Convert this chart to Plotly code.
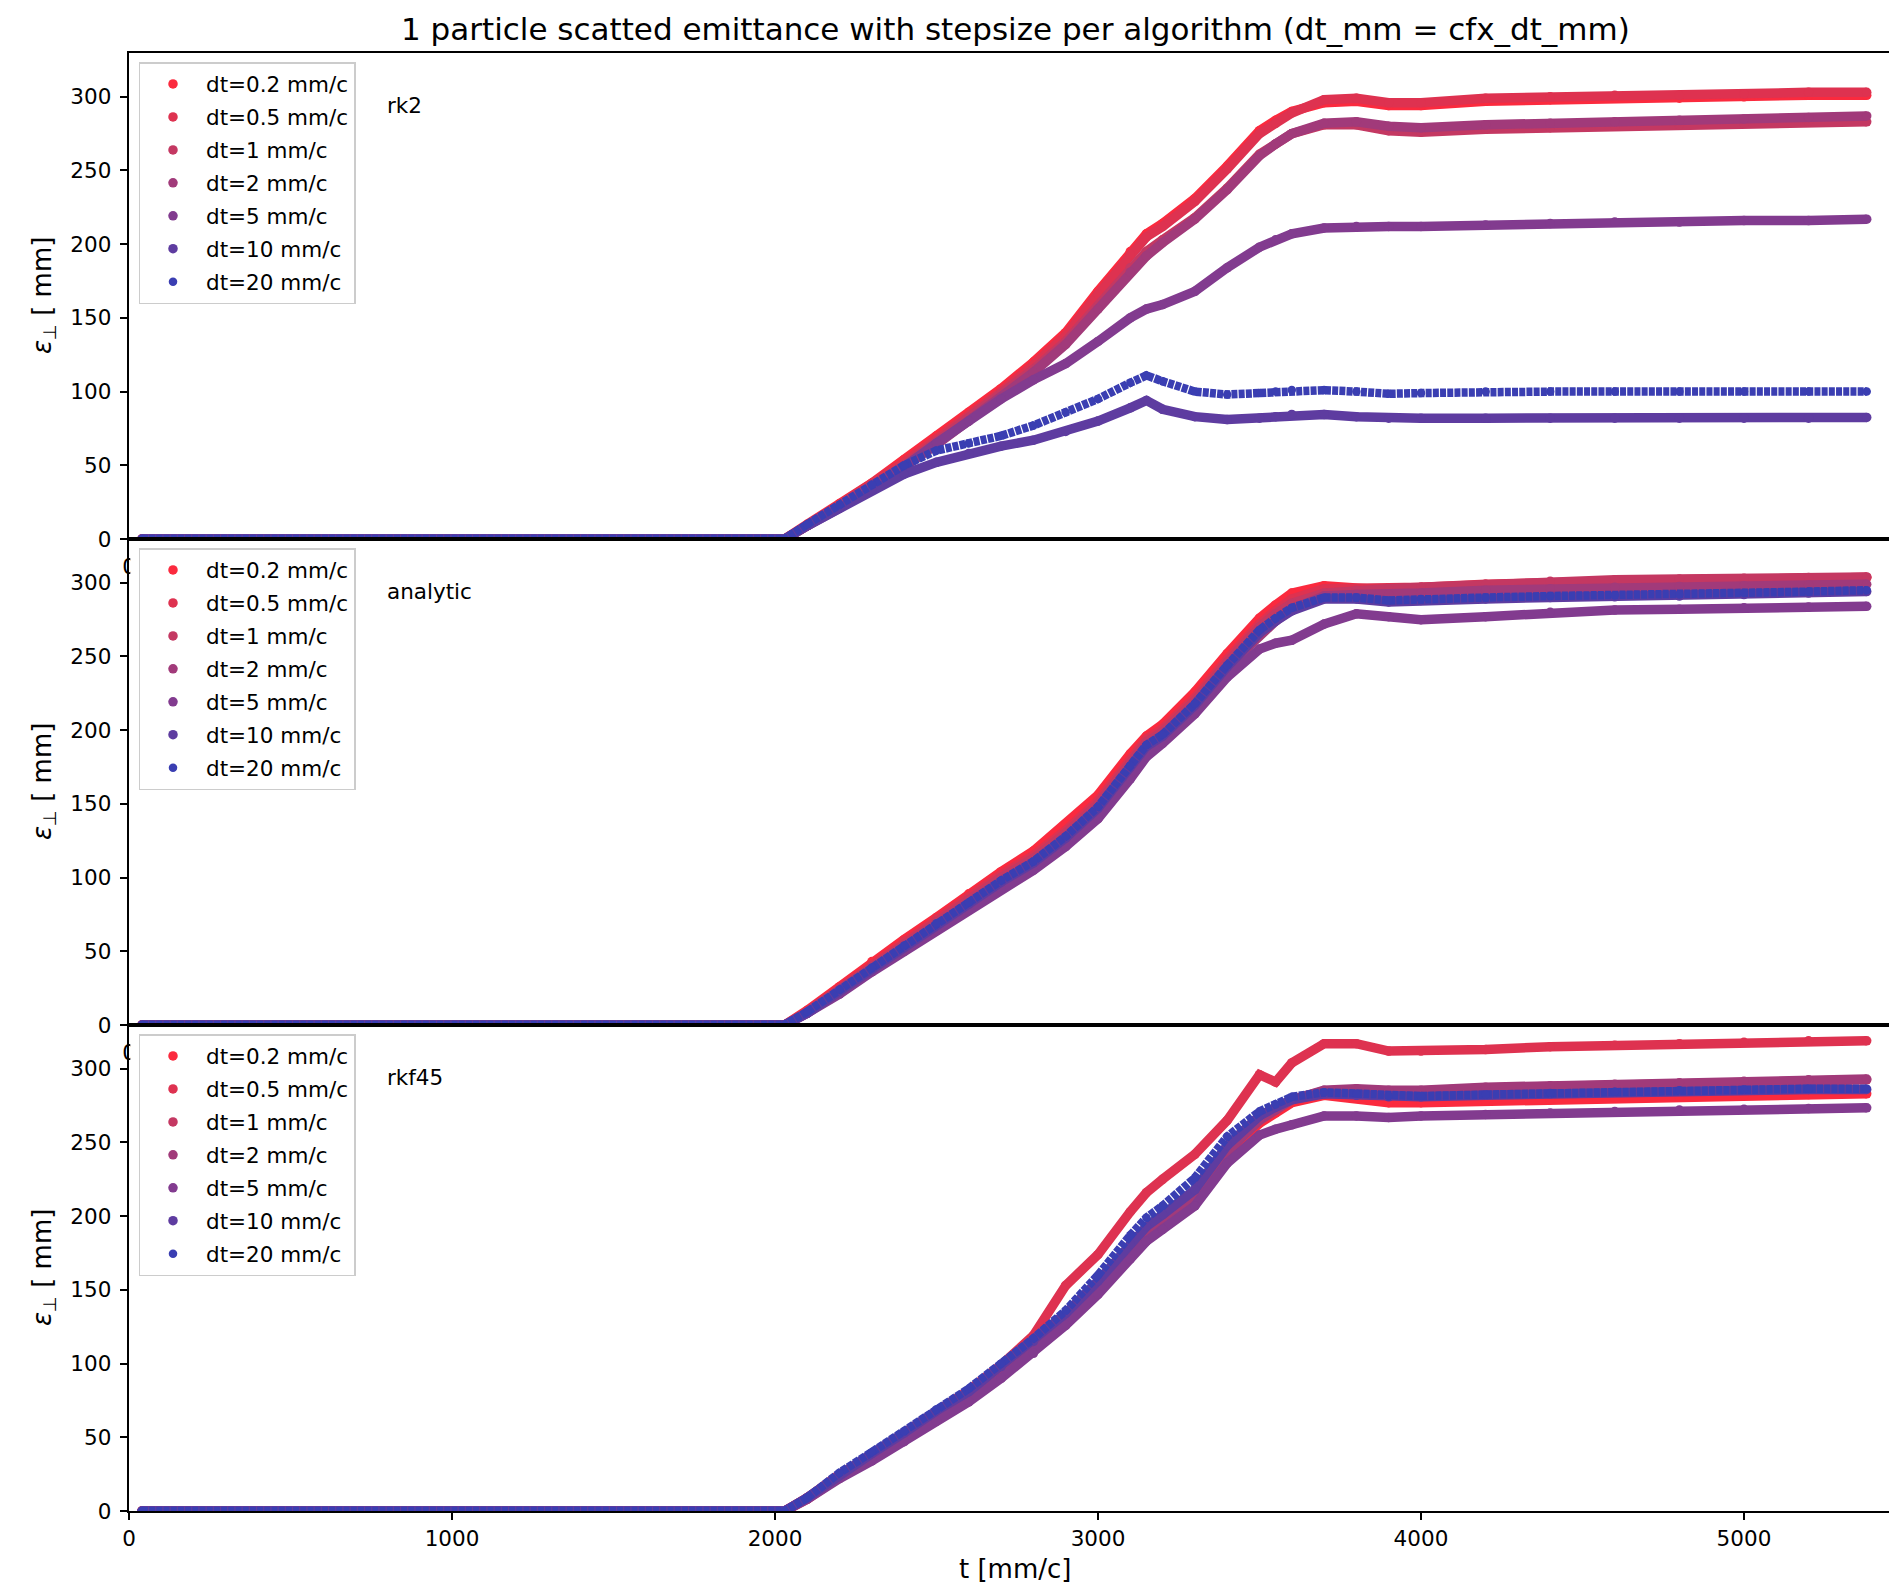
import plotly.graph_objects as go

# ---------------------------------------------------------------------------
# Data: transverse emittance eps_perp [mm] sampled along t [mm/c]
# ---------------------------------------------------------------------------
T = [40, 2030, 2100, 2200, 2300, 2400, 2500, 2600, 2700, 2800, 2900, 3000,
     3100, 3150, 3200, 3300, 3400, 3500, 3550, 3600, 3700, 3800, 3900, 4000,
     4200, 4400, 4600, 4800, 5000, 5200, 5380]

DT_LABELS = ["dt=0.2 mm/c", "dt=0.5 mm/c", "dt=1 mm/c", "dt=2 mm/c",
             "dt=5 mm/c", "dt=10 mm/c", "dt=20 mm/c"]
COLORS = ["#fb2a3e", "#de3250", "#c43862", "#a13a7a",
          "#823b8f", "#5e3ca0", "#3a3eb2"]
ALGORITHMS = ["rk2", "analytic", "rkf45"]
X_TICKS = [0, 1000, 2000, 3000, 4000, 5000]
Y_TICKS = [0, 50, 100, 150, 200, 250, 300]

# rk2
RK2_DT02 = [0, 0, 10, 24, 38, 54, 70, 86, 102, 120, 140, 168, 195, 207, 214, 231,
            253, 277, 284, 290, 296, 297, 294, 294, 297, 298, 299, 299, 300, 301, 301]
RK2_DT05 = [0, 0, 9, 23, 37, 52, 68, 84, 100, 118, 138, 166, 193, 205, 212, 229,
            251, 275, 282, 289, 298, 299, 296, 296, 299, 300, 301, 301, 302, 303, 303]
RK2_DT1 = [0, 0, 9, 22, 36, 50, 66, 82, 98, 115, 134, 158, 184, 195, 203, 218,
           238, 261, 268, 275, 281, 281, 277, 276, 278, 279, 280, 281, 282, 283, 283]
RK2_DT2 = [0, 0, 9, 22, 35, 49, 64, 80, 96, 113, 132, 156, 181, 192, 201, 217,
           237, 260, 268, 275, 282, 283, 280, 279, 281, 282, 283, 284, 285, 286, 287]
RK2_DT5 = [0, 0, 9, 21, 35, 49, 65, 80, 95, 108, 119, 134, 150, 156, 159, 168,
           184, 198, 203, 207, 211, 212, 212, 212, 213, 214, 215, 215, 216, 216, 217]
RK2_DT10 = [0, 0, 9, 21, 33, 44, 52, 58, 63, 67, 73, 80, 89, 94, 88, 83,
            81, 82, 83, 84.5, 84.5, 83, 82, 82, 82, 82, 82, 82, 82, 82, 82.5]
RK2_DT20 = [0, 0, 10, 23, 37, 50, 60, 65, 70, 77, 86, 95, 106, 111, 107, 100,
            98, 99, 100, 101, 101, 100, 98.5, 99, 100, 100, 100, 100, 100, 100, 100]

# analytic
AN_DT02 = [0, 0, 10, 26, 43, 58, 73, 89, 104, 118, 136, 156, 184, 196, 204, 226,
           252, 276, 285, 293, 298, 296, 295, 296, 298, 300, 301, 302, 302.5, 303, 303.5]
AN_DT05 = [0, 0, 9, 25, 41, 57, 72, 87, 102, 115, 132, 152, 180, 194, 201, 222,
           248, 272, 281, 289, 296, 296, 296, 297, 299, 300.5, 301.5, 302, 302.5, 303, 303.5]
AN_DT1 = [0, 0, 9, 24, 40, 55, 70, 85, 100, 113, 130, 150, 178, 192, 199, 220,
          246, 270, 279, 286, 293, 295, 296, 297, 299, 301, 302, 302.5, 303, 303.5, 304]
AN_DT2 = [0, 0, 8, 23, 38, 53, 68, 83, 97, 110, 127, 147, 174, 188, 196, 217,
          243, 265, 274, 282, 291, 292, 292, 293, 295, 296, 297, 297.5, 298, 298.5, 299]
AN_DT5 = [0, 0, 8, 21, 36, 50, 64, 78, 92, 105, 121, 140, 167, 182, 191, 211,
          236, 255, 259, 261, 272, 279, 277, 275, 277, 280, 281.5, 282, 283, 283.5, 284]
AN_DT10 = [0, 0, 8, 23, 38, 53, 68, 82, 97, 110, 127, 147, 175, 189, 196, 217,
           243, 266, 274, 281, 289, 289, 287, 288, 289, 290, 290.5, 291, 292, 293, 294]
AN_DT20 = [0, 0, 9, 24, 39, 54, 69, 83, 98, 111, 128, 148, 176, 190, 197, 218,
           244, 268, 276, 283, 290, 290, 288, 289, 290, 291, 291.5, 292, 293, 294, 295]

# rkf45
RKF_DT02 = [0, 0, 8, 23, 36, 50, 64, 77, 94, 111, 130, 151, 176, 188, 196, 212,
            242, 263, 270, 277, 282, 280, 277, 277, 278, 279, 280, 281, 282, 282.5, 283]
RKF_DT05 = [0, 0, 9, 23, 38, 53, 68, 82, 99, 119, 153, 174, 203, 216, 225, 242,
            265, 296, 291, 304, 317, 317, 312, 312, 313, 315, 316, 317, 318, 319, 319]
RKF_DT1 = [0, 0, 9, 25, 38, 52, 66, 79, 96, 113, 132, 153, 178, 190, 198, 214,
           245, 266, 273, 279, 285, 286, 285, 285, 287, 288, 289, 290, 291, 292, 292.5]
RKF_DT2 = [0, 0, 9, 24, 37, 51, 65, 78, 95, 112, 131, 152, 177, 189, 197, 213,
           244, 265, 272, 279, 285.5, 286.5, 285.5, 285.5, 287.5, 288.5, 289.5, 290.5, 291.5, 292.5, 293]
RKF_DT5 = [0, 0, 8, 22, 34, 47, 61, 74, 90, 107, 126, 147, 171, 183, 191, 207,
           236, 255, 259, 262, 268, 268, 267, 268, 269, 270, 271, 272, 272.5, 273, 273.5]
RKF_DT10 = [0, 0, 9, 25, 39, 53, 68, 81, 98, 115, 134, 156, 181, 193, 201, 218,
            248, 268, 274, 279, 283, 282, 281, 281, 282, 283, 284, 285, 285.5, 286, 286]
RKF_DT20 = [0, 0, 9, 26, 40, 54, 69, 83, 100, 117, 136, 160, 187, 199, 207, 226,
            254, 271, 276, 281, 284, 283, 281.5, 281.5, 282.5, 283.5, 284.5, 285.5, 286, 286.5, 286.5]

PANELS = [
    [RK2_DT02, RK2_DT05, RK2_DT1, RK2_DT2, RK2_DT5, RK2_DT10, RK2_DT20],
    [AN_DT02, AN_DT05, AN_DT1, AN_DT2, AN_DT5, AN_DT10, AN_DT20],
    [RKF_DT02, RKF_DT05, RKF_DT1, RKF_DT2, RKF_DT5, RKF_DT10, RKF_DT20],
]

# ---------------------------------------------------------------------------
# Figure geometry
# ---------------------------------------------------------------------------
W, H = 1889, 1584
M_L, M_R, M_T, M_B = 129, 0, 53, 73
PLOT_W = W - M_L - M_R
PLOT_H = H - M_T - M_B
X_MAX = 5449
Y_MAX = 329.7
FONT = "DejaVu Sans"
FS = 21.5
FS_LABEL = 26
FS_TITLE = 31
LW = 9.5
AXW = 1.7

fig = go.Figure()

domains = [[2 / 3, 1.0], [1 / 3, 2 / 3], [0.0, 1 / 3]]
legend_names = ["legend", "legend2", "legend3"]

for p, series in enumerate(PANELS):
    sfx = "" if p == 0 else str(p + 1)
    for k, vals in enumerate(series):
        grp = f"{ALGORITHMS[p]}_{k}"
        coarse = k == len(series) - 1
        dash = "6px,1.2px" if coarse else "solid"
        width = LW - 1 if coarse else LW
        # continuous track of the samples
        fig.add_trace(go.Scatter(
            x=T, y=vals, mode="lines", xaxis="x" + sfx, yaxis="y" + sfx,
            line=dict(color=COLORS[k], width=width, dash=dash),
            legendgroup=grp, legend=legend_names[p], showlegend=False,
            hoverinfo="skip"))
        # sample points (round joins + legend dot)
        fig.add_trace(go.Scatter(
            x=T, y=vals, mode="markers", xaxis="x" + sfx, yaxis="y" + sfx,
            marker=dict(color=COLORS[k], size=width, line=dict(width=0)),
            name=DT_LABELS[k], legendgroup=grp, legend=legend_names[p],
            showlegend=True, cliponaxis=True))

layout = dict(
    width=W, height=H,
    margin=dict(l=M_L, r=M_R, t=M_T, b=M_B, pad=0),
    paper_bgcolor="white", plot_bgcolor="white",
    font=dict(family=FONT, size=FS, color="black"),
    showlegend=True,
)


def px_to_paper_y(py):
    return (H - M_B - py) / PLOT_H


def px_to_paper_x(px):
    return (px - M_L) / PLOT_W


legend_tops = [62, 62 + 486, 62 + 972]
for p in range(3):
    sfx = "" if p == 0 else str(p + 1)
    bottom_axis = p == 2
    layout["xaxis" + sfx] = dict(
        domain=[0, 1], range=[0, X_MAX], anchor="y" + sfx,
        showline=True, mirror=True, linecolor="black", linewidth=AXW,
        showgrid=False, zeroline=False,
        ticks="outside", ticklen=7.5, tickwidth=AXW,
        tickcolor="black" if bottom_axis else "rgba(0,0,0,0)",
        tickmode="array",
        tickvals=X_TICKS if bottom_axis else [0],
        ticktext=[str(v) for v in X_TICKS] if bottom_axis else ["0"],
        tickfont=dict(family=FONT, size=FS, color="black"),
    )
    layout["yaxis" + sfx] = dict(
        domain=domains[p], range=[0, Y_MAX], anchor="x" + sfx,
        showline=True, mirror=False, linecolor="black", linewidth=AXW,
        showgrid=False, zeroline=False,
        ticks="outside", ticklen=7.5, tickwidth=AXW, tickcolor="black",
        tickmode="array", tickvals=Y_TICKS,
        ticktext=[str(v) for v in Y_TICKS],
        tickfont=dict(family=FONT, size=FS, color="black"),
        ticklabelstandoff=4,
    )
    layout[legend_names[p]] = dict(
        x=px_to_paper_x(138.5), y=px_to_paper_y(legend_tops[p]),
        xanchor="left", yanchor="top",
        bgcolor="rgba(255,255,255,0.8)", bordercolor="#cccccc", borderwidth=1.5,
        font=dict(family=FONT, size=FS, color="black"),
        itemwidth=56, traceorder="grouped", tracegroupgap=2,
    )

annotations = [
    dict(text="1 particle scatted emittance with stepsize per algorithm (dt_mm = cfx_dt_mm)",
         xref="paper", yref="paper", x=px_to_paper_x(1015), y=px_to_paper_y(29),
         xanchor="center", yanchor="middle", showarrow=False,
         font=dict(family=FONT, size=FS_TITLE, color="black")),
    dict(text="t [mm/c]", xref="paper", yref="paper",
         x=px_to_paper_x(1015), y=px_to_paper_y(1569),
         xanchor="center", yanchor="middle", showarrow=False,
         font=dict(family=FONT, size=FS_LABEL, color="black")),
]
for p in range(3):
    sfx = "" if p == 0 else str(p + 1)
    mid = (domains[p][0] + domains[p][1]) / 2
    annotations.append(dict(
        text="<i>ε</i><sub>⊥</sub> [ mm]", xref="paper", yref="paper",
        x=px_to_paper_x(43), y=mid, textangle=-90,
        xanchor="center", yanchor="middle", showarrow=False,
        font=dict(family=FONT, size=FS_LABEL, color="black")))
    annotations.append(dict(
        text=ALGORITHMS[p], xref="x" + sfx, yref="y" + sfx, x=794, y=294,
        xanchor="left", yanchor="middle", showarrow=False,
        font=dict(family=FONT, size=FS, color="black")))
layout["annotations"] = annotations

# the panel below hides the x tick labels of the panel above (only the left
# half of the "0" stays outside its frame)
shapes = []
for p in range(2):
    y_axis_px = M_T + 486 * (p + 1)
    shapes.append(dict(
        type="rect", xref="paper", yref="paper", layer="above",
        x0=px_to_paper_x(130.3), x1=px_to_paper_x(138),
        y0=px_to_paper_y(y_axis_px + 40), y1=px_to_paper_y(y_axis_px + 3),
        fillcolor="white", line=dict(width=0)))
layout["shapes"] = shapes

fig.update_layout(**layout)
fig.write_html("out.html")
